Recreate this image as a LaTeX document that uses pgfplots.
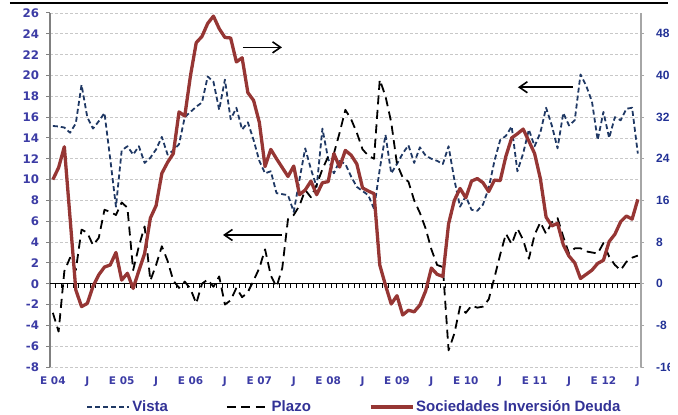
\documentclass[border=0pt]{standalone}
\usepackage{pgfplots}
\pgfplotsset{compat=1.18}
\usepackage{pgfplotstable}
\usepackage{fontspec}
\setmainfont{Liberation Sans}
\newfontfamily\dvs{DejaVu Sans}
\usetikzlibrary{arrows.meta}
\definecolor{vistac}{RGB}{31,56,100}
\definecolor{socc}{RGB}{150,54,52}
\definecolor{lblue}{RGB}{60,60,165}
\definecolor{rblue}{RGB}{35,50,150}
\definecolor{legc}{RGB}{50,50,150}
\definecolor{gridc}{RGB}{200,200,200}

\pgfplotstableread{
i v p s
0 15.15 -2.8 20.0
1 15.1 -4.6 22.3
2 15.0 1.2 26.3
3 14.5 2.5 12.6
4 15.4 1.3 -1.2
5 19.1 5.2 -4.4
6 16.0 4.9 -3.8
7 14.9 3.7 -0.5
8 15.6 4.4 1.7
9 16.4 7.1 3.2
10 12.0 6.9 3.6
11 7.4 6.6 6.0
12 12.8 7.8 0.7
13 13.2 7.3 2.0
14 12.4 1.3 -0.9
15 13.2 3.6 2.5
16 11.6 5.5 5.8
17 12.1 0.3 12.6
18 12.9 1.8 15.0
19 14.1 3.6 21.2
20 12.4 2.2 23.3
21 12.8 0.3 25.0
22 13.4 -0.4 33.0
23 16.0 0.2 32.2
24 16.5 -0.5 40.0
25 17.0 -1.9 46.3
26 17.4 0.0 47.5
27 19.9 0.4 50.0
28 19.4 -0.3 51.4
29 16.7 0.7 49.0
30 19.6 -2.0 47.3
31 15.8 -1.6 47.2
32 16.9 -0.4 42.6
33 14.8 -1.3 43.4
34 15.5 -0.8 36.7
35 13.8 0.3 35.2
36 11.8 1.5 31.0
37 10.6 3.3 22.5
38 10.8 0.8 25.8
39 8.7 -0.3 24.0
40 8.6 1.5 22.3
41 8.5 6.2 20.6
42 6.9 6.6 22.6
43 10.0 7.5 17.1
44 13.0 9.0 18.0
45 11.0 8.3 19.7
46 9.3 9.5 17.1
47 14.9 11.0 19.4
48 12.0 12.2 19.6
49 10.6 12.5 25.0
50 11.8 14.5 22.4
51 11.5 16.7 25.6
52 10.3 15.8 24.7
53 9.3 14.5 23.0
54 8.9 12.9 18.4
55 8.5 12.3 17.8
56 7.2 12.0 17.3
57 11.0 19.6 3.6
58 14.3 18.0 -0.3
59 10.6 15.5 -3.9
60 11.5 11.5 -2.3
61 12.5 10.2 -6.0
62 13.3 9.8 -5.1
63 11.6 8.0 -5.4
64 13.1 6.8 -4.1
65 12.3 5.3 -1.4
66 12.0 3.3 3.0
67 11.8 1.8 1.8
68 11.5 1.6 1.4
69 13.2 -6.4 11.5
70 10.0 -4.8 16.0
71 7.4 -2.2 18.3
72 8.4 -2.8 16.5
73 7.1 -2.1 19.7
74 7.0 -2.3 20.2
75 7.6 -2.2 19.4
76 9.2 -1.5 17.7
77 11.8 0.6 19.9
78 13.8 2.8 19.8
79 14.2 4.8 24.5
80 15.1 3.8 28.0
81 10.8 5.3 28.8
82 12.5 4.2 29.7
83 14.8 2.4 27.4
84 13.2 4.7 25.0
85 14.5 5.9 20.2
86 16.9 4.8 12.8
87 15.2 5.9 11.1
88 13.0 6.3 11.6
89 16.4 4.5 7.5
90 15.2 2.9 5.3
91 15.7 3.4 4.0
92 20.1 3.4 1.0
93 19.0 3.1 1.8
94 17.5 3.0 2.6
95 13.8 2.9 3.9
96 16.5 3.9 4.5
97 14.0 2.6 8.1
98 16.0 1.8 9.5
99 15.7 1.3 11.9
100 16.8 2.1 13.0
101 16.9 2.5 12.4
102 12.5 2.7 16.2
}\data

\pgfplotsset{
  vistastyle/.style={vistac, line width=1.8bp, dash pattern=on 5bp off 3bp},
  plazostyle/.style={black, line width=1.8bp, dash pattern=on 9bp off 5.5bp},
}

\begin{document}
\begin{tikzpicture}
\begin{axis}[
  at={(0,0)}, anchor=south west, scale only axis,
  width=590.7bp, height=354bp,
  xmin=-0.5, xmax=102.5, ymin=-8, ymax=26,
  axis y line*=left, axis x line*=bottom,
  x axis line style={draw=none},
  y axis line style={draw=gray, line width=1.3bp, -},
  xtick={0,6,...,102},
  xticklabels={E 04,J,E 05,J,E 06,J,E 07,J,E 08,J,E 09,J,E 10,J,E 11,J,E 12,J},
  xtick style={draw=none},
  ytick={-8,-6,...,26},
  yticklabels={-8,-6,-4,-2,0,2,4,6,8,10,12,14,16,18,20,22,24,26},
  ytick style={draw=gray, line width=1bp},
  tick align=outside, major tick length=3.5bp,
  ymajorgrids,
  grid style={gridc, dash pattern=on 3bp off 2bp, line width=0.8bp},
  yticklabel style={font=\dvs\bfseries\fontsize{11.8bp}{12bp}\selectfont, text=lblue, xshift=-4bp},
  xticklabel style={font=\dvs\bfseries\fontsize{10.5bp}{12bp}\selectfont, text=lblue, yshift=-3bp},
  clip=false,
]
\draw[black, line width=1.1bp] (axis cs:-0.5,0) -- (axis cs:102.5,0);
\pgfplotsinvokeforeach{0,...,101}{\draw[black, line width=0.8bp] (axis cs:#1.5,0) -- ([yshift=-4.5bp]axis cs:#1.5,0);}
\addplot[vistastyle, line join=round] table[x=i,y=v]{\data};
\addplot[plazostyle, line join=round] table[x=i,y=p]{\data};
\draw[-{Straight Barb[length=8bp,width=11bp]}, line width=1.6bp] (axis cs:33.15,22.7) -- (axis cs:39.95,22.7);
\draw[-{Straight Barb[length=8bp,width=11bp]}, line width=1.6bp] (axis cs:39.95,4.68) -- (axis cs:29.67,4.68);
\draw[-{Straight Barb[length=8bp,width=11bp]}, line width=1.6bp] (axis cs:90.7,18.87) -- (axis cs:81.1,18.87);
\end{axis}
\begin{axis}[
  at={(0,0)}, anchor=south west, scale only axis,
  width=590.7bp, height=354bp,
  xmin=-0.5, xmax=102.5, ymin=-16, ymax=52,
  axis y line*=right, axis x line=none,
  y axis line style={draw=gray!70, line width=1.6bp, -},
  ytick={-16,-8,...,48},
  yticklabels={-16,-8,0,8,16,24,32,40,48},
  ytick style={draw=gray!70, line width=1bp},
  tick align=outside, major tick length=3.5bp,
  yticklabel style={font=\bfseries\fontsize{12bp}{13bp}\selectfont, text=rblue, xshift=8.5bp},
  legend style={at={(0.5155,-0.113)}, anchor=center, draw=none, fill=none,
    legend columns=3, font=\bfseries\fontsize{15bp}{16bp}\selectfont, text=legc,
    /tikz/every even column/.append style={column sep=56bp}},
  legend image code/.code={\draw[#1] (0bp,0bp) -- (42bp,0bp);},
  clip=false,
]
\addlegendimage{vistastyle}\addlegendentry{Vista}
\addlegendimage{plazostyle}\addlegendentry{Plazo}
\addplot[socc, line width=3.3bp, line join=round] table[x=i,y=s]{\data};
\addlegendentry{Sociedades Inversión Deuda}
\end{axis}
\draw[black, line width=2bp] (-40bp,363.7bp) -- (618bp,363.7bp);
\fill[white] (619.5bp,-48bp) rectangle (630bp,368bp);
\pgfresetboundingbox
\path (-50bp,-48bp) rectangle (628bp,367bp);
\end{tikzpicture}
\end{document}
